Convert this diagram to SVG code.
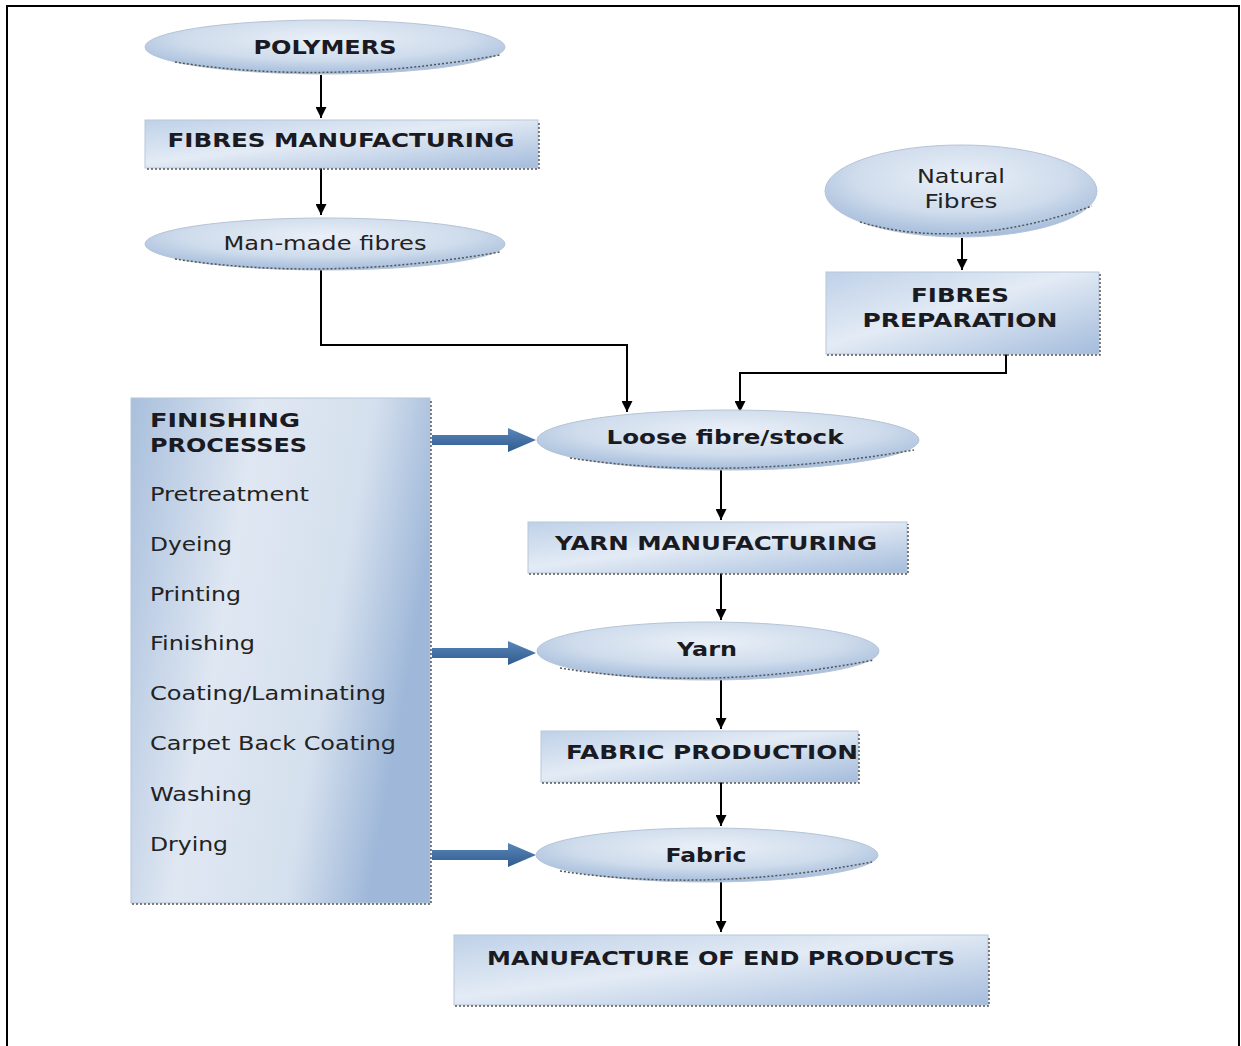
<svg xmlns="http://www.w3.org/2000/svg" width="1241" height="1046" viewBox="0 0 1241 1046">
<defs>
<radialGradient id="gEll" cx="0.5" cy="0.35" r="0.65">
<stop offset="0" stop-color="#eaf0f8"/>
<stop offset="0.6" stop-color="#cfdcec"/>
<stop offset="1" stop-color="#a4bcdb"/>
</radialGradient>
<linearGradient id="gBox" x1="0" y1="0" x2="1" y2="1">
<stop offset="0" stop-color="#bfd1e8"/>
<stop offset="0.45" stop-color="#e3ebf5"/>
<stop offset="1" stop-color="#a4bcdc"/>
</linearGradient>
<linearGradient id="gFin" x1="0" y1="0" x2="1" y2="0.3">
<stop offset="0" stop-color="#a8bfdc"/>
<stop offset="0.4" stop-color="#dfe7f2"/>
<stop offset="0.75" stop-color="#d5e0ee"/>
<stop offset="1" stop-color="#9fb8d9"/>
</linearGradient>
<linearGradient id="gBlue" x1="0" y1="0" x2="0" y2="1">
<stop offset="0" stop-color="#5a86b8"/>
<stop offset="1" stop-color="#2f5b8f"/>
</linearGradient>
<marker id="ah" viewBox="0 0 10 10" refX="10" refY="5" markerWidth="11" markerHeight="11" markerUnits="userSpaceOnUse" orient="auto">
<path d="M0,0 L10,5 L0,10 Z" fill="#000"/>
</marker>
<g id="fat">
<path d="M0,-5 L76,-5 L76,-12 L104,0 L76,12 L76,5 L0,5 Z" fill="url(#gBlue)"/>
</g>
</defs>
<style>
.ell{fill:url(#gEll);stroke:#b5c4d6;stroke-width:1}
.box{fill:url(#gBox);stroke:#b7c7da;stroke-width:1}
.sh{fill:none;stroke:#555;stroke-width:1.5;stroke-dasharray:2 2}
.b{font-family:"DejaVu Sans",Verdana,sans-serif;font-weight:bold;font-size:20px;fill:#1a1a22}
.r{font-family:"DejaVu Sans",Verdana,sans-serif;font-size:20px;fill:#222}
.c{text-anchor:middle}
.ln{fill:none;stroke:#000;stroke-width:2}
</style>
<rect width="1241" height="1046" fill="#fff"/>
<path d="M7,1046 L7,6 L1239,6 L1239,1046" fill="none" stroke="#000" stroke-width="2"/>

<g id="connectors">
<path class="ln" d="M321,75 L321,118" marker-end="url(#ah)"/>
<path class="ln" d="M321,168 L321,215" marker-end="url(#ah)"/>
<path class="ln" d="M321,270 L321,345 L627,345 L627,412" marker-end="url(#ah)"/>
<path class="ln" d="M962,238 L962,270" marker-end="url(#ah)"/>
<path class="ln" d="M1006,354 L1006,373 L740,373 L740,412" marker-end="url(#ah)"/>
<path class="ln" d="M721,470 L721,520" marker-end="url(#ah)"/>
<path class="ln" d="M721,573 L721,620" marker-end="url(#ah)"/>
<path class="ln" d="M721,680 L721,729" marker-end="url(#ah)"/>
<path class="ln" d="M721,782 L721,826" marker-end="url(#ah)"/>
<path class="ln" d="M721,882 L721,932" marker-end="url(#ah)"/>
<use href="#fat" x="432" y="440"/>
<use href="#fat" x="432" y="653"/>
<use href="#fat" x="432" y="855"/>
</g>

<g id="polymers">
<ellipse class="ell" cx="325" cy="47" rx="180" ry="27"/>
<path class="sh" d="M175,62 Q325,86 500,55"/>
<text class="b c" x="325" y="54" textLength="143" lengthAdjust="spacingAndGlyphs">POLYMERS</text>
</g>
<g id="fibres-manufacturing">
<rect class="box" x="145" y="120" width="393" height="48"/>
<path class="sh" d="M147,169 L539,169 L539,122"/>
<text class="b c" x="341" y="147" textLength="347" lengthAdjust="spacingAndGlyphs">FIBRES MANUFACTURING</text>
</g>
<g id="man-made-fibres">
<ellipse class="ell" cx="325" cy="244" rx="180" ry="26"/>
<path class="sh" d="M175,259 Q325,282 500,252"/>
<text class="r c" x="325" y="250" textLength="203" lengthAdjust="spacingAndGlyphs">Man-made fibres</text>
</g>
<g id="natural-fibres">
<ellipse class="ell" cx="961" cy="191" rx="136" ry="46"/>
<path class="sh" d="M860,222 Q961,252 1092,206"/>
<text class="r c" x="961" y="183" textLength="88" lengthAdjust="spacingAndGlyphs">Natural</text>
<text class="r c" x="961" y="208" textLength="73" lengthAdjust="spacingAndGlyphs">Fibres</text>
</g>
<g id="fibres-preparation">
<rect class="box" x="826" y="272" width="273" height="82"/>
<path class="sh" d="M827,355 L1100,355 L1100,274"/>
<text class="b c" x="960" y="302" textLength="98" lengthAdjust="spacingAndGlyphs">FIBRES</text>
<text class="b c" x="960" y="327" textLength="195" lengthAdjust="spacingAndGlyphs">PREPARATION</text>
</g>
<g id="finishing-processes">
<rect x="131" y="398" width="299" height="505" fill="url(#gFin)" stroke="#b5c5d9"/>
<path class="sh" d="M132,904 L431,904 L431,400"/>
<text class="b" x="150" y="427" textLength="150" lengthAdjust="spacingAndGlyphs">FINISHING</text>
<text class="b" x="150" y="452" textLength="157" lengthAdjust="spacingAndGlyphs">PROCESSES</text>
<text class="r" x="150" y="501" textLength="159" lengthAdjust="spacingAndGlyphs">Pretreatment</text>
<text class="r" x="150" y="551" textLength="82" lengthAdjust="spacingAndGlyphs">Dyeing</text>
<text class="r" x="150" y="601" textLength="91" lengthAdjust="spacingAndGlyphs">Printing</text>
<text class="r" x="150" y="650" textLength="105" lengthAdjust="spacingAndGlyphs">Finishing</text>
<text class="r" x="150" y="700" textLength="236" lengthAdjust="spacingAndGlyphs">Coating/Laminating</text>
<text class="r" x="150" y="750" textLength="246" lengthAdjust="spacingAndGlyphs">Carpet Back Coating</text>
<text class="r" x="150" y="801" textLength="102" lengthAdjust="spacingAndGlyphs">Washing</text>
<text class="r" x="150" y="851" textLength="78" lengthAdjust="spacingAndGlyphs">Drying</text>
</g>
<g id="loose-fibre">
<ellipse class="ell" cx="728" cy="440" rx="191" ry="30"/>
<path class="sh" d="M570,458 Q728,482 914,450"/>
<text class="b c" x="725" y="444" textLength="237" lengthAdjust="spacingAndGlyphs">Loose fibre/stock</text>
</g>
<g id="yarn-manufacturing">
<rect class="box" x="528" y="522" width="379" height="51"/>
<path class="sh" d="M529,574 L908,574 L908,524"/>
<text class="b c" x="716" y="550" textLength="322" lengthAdjust="spacingAndGlyphs">YARN MANUFACTURING</text>
</g>
<g id="yarn">
<ellipse class="ell" cx="708" cy="651" rx="171" ry="29"/>
<path class="sh" d="M560,668 Q708,692 874,660"/>
<text class="b c" x="707" y="656" textLength="60" lengthAdjust="spacingAndGlyphs">Yarn</text>
</g>
<g id="fabric-production">
<rect class="box" x="541" y="731" width="317" height="51"/>
<path class="sh" d="M542,783 L859,783 L859,733"/>
<text class="b c" x="712" y="759" textLength="292" lengthAdjust="spacingAndGlyphs">FABRIC PRODUCTION</text>
</g>
<g id="fabric">
<ellipse class="ell" cx="707" cy="855" rx="171" ry="27"/>
<path class="sh" d="M560,871 Q707,893 872,862"/>
<text class="b c" x="706" y="862" textLength="81" lengthAdjust="spacingAndGlyphs">Fabric</text>
</g>
<g id="end-products">
<rect class="box" x="454" y="935" width="534" height="70"/>
<path class="sh" d="M455,1006 L989,1006 L989,937"/>
<text class="b c" x="721" y="965" textLength="468" lengthAdjust="spacingAndGlyphs">MANUFACTURE OF END PRODUCTS</text>
</g>
</svg>
